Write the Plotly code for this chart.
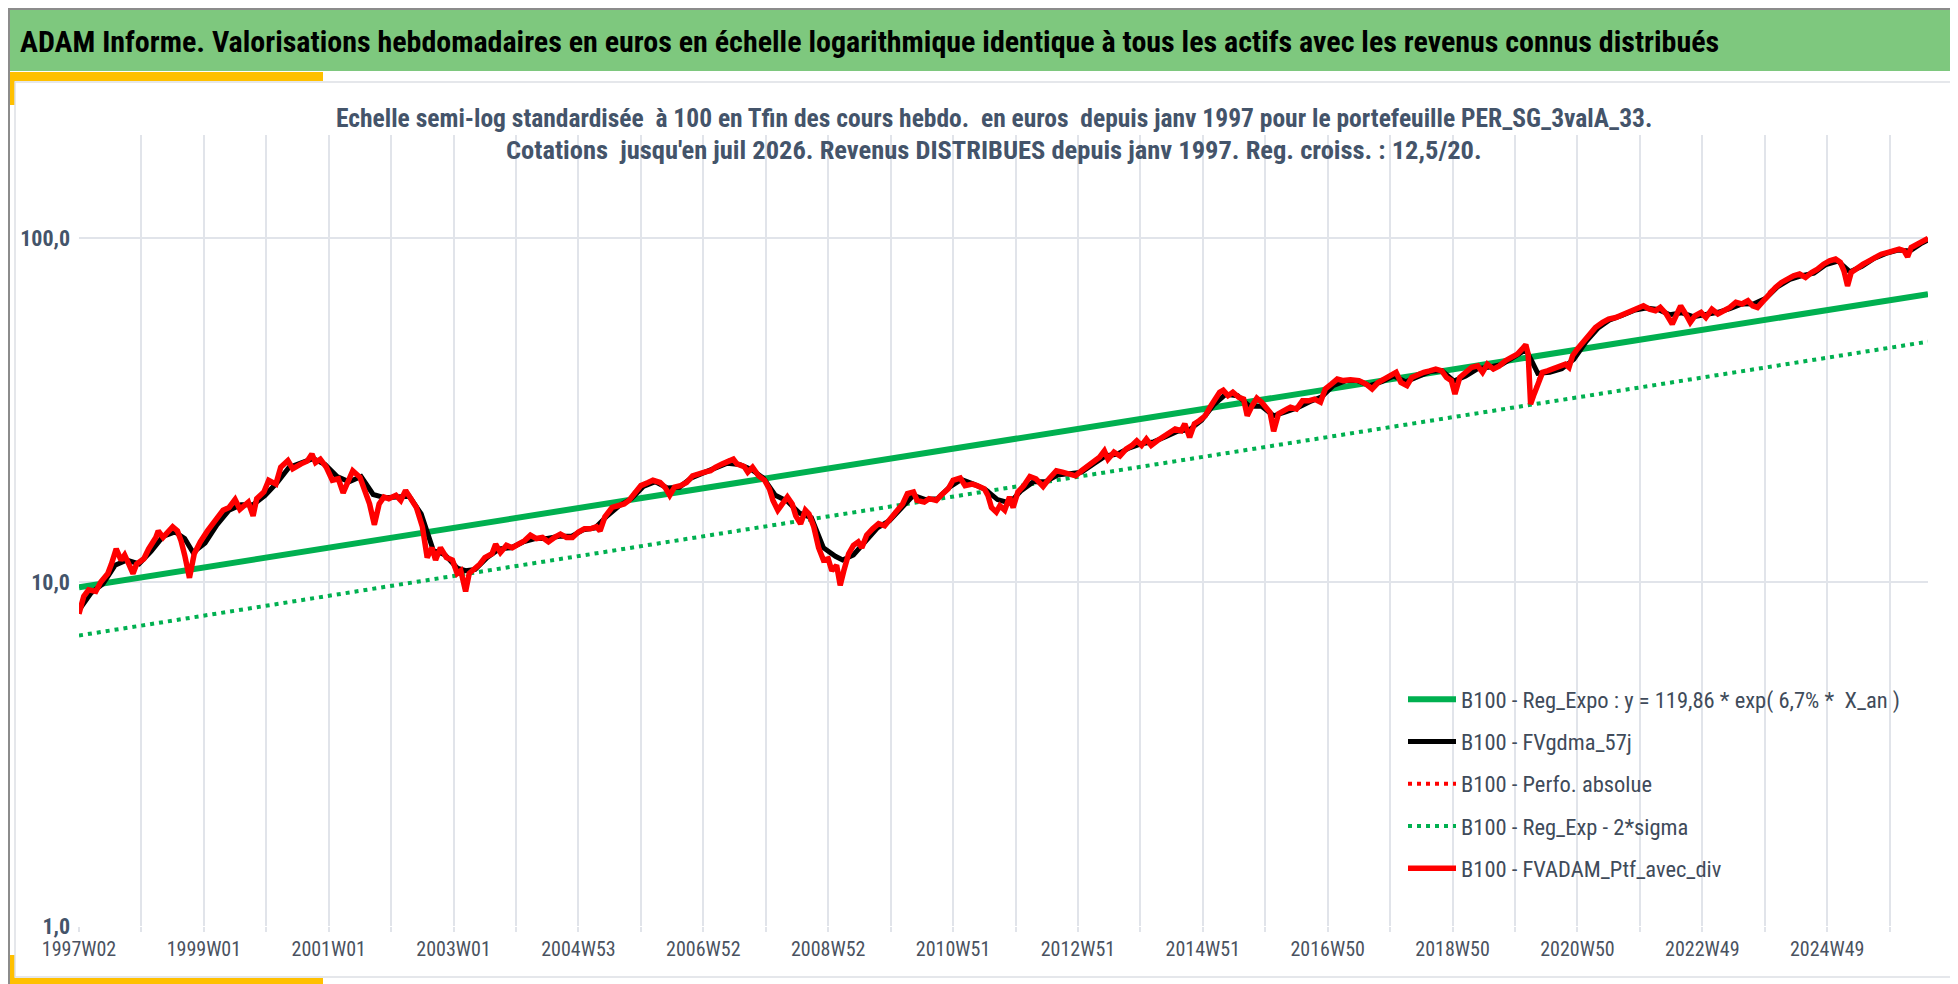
import plotly.graph_objects as go

# weekly index, 0 = 1997W02 (last point = juil 2026)
ptf_weeks = [0, 4, 8, 14, 18, 24, 27, 31, 35, 38, 42, 45, 48, 54, 58, 64, 66, 70, 74, 78,
             82, 85, 88, 92, 96, 101, 107, 114, 120, 125, 130, 134, 137, 141, 145, 148, 154, 158, 164, 168,
             174, 178, 185, 190, 194, 197, 201, 206, 211, 216, 220, 224, 228, 234, 238, 242, 246, 250, 254, 258,
             264, 268, 272, 276, 281, 286, 290, 294, 297, 301, 306, 311, 315, 318, 322, 325, 328, 334, 338, 344,
             347, 351, 356, 361, 366, 371, 376, 381, 386, 391, 396, 401, 406, 411, 416, 421, 426, 431, 434, 438,
             444, 448, 454, 458, 464, 468, 474, 478, 484, 488, 492, 496, 501, 506, 511, 516, 521, 526, 530, 536,
             541, 545, 548, 554, 557, 561, 566, 571, 575, 578, 582, 586, 590, 594, 597, 601, 605, 608, 612, 616,
             620, 624, 627, 631, 634, 637, 641, 645, 649, 652, 656, 661, 666, 671, 676, 681, 686, 690, 695, 698,
             704, 708, 714, 718, 724, 728, 734, 738, 744, 748, 754, 757, 760, 764, 767, 771, 775, 778, 782, 787,
             792, 797, 803, 808, 814, 819, 824, 830, 835, 840, 845, 850, 854, 857, 862, 867, 872, 877, 881, 885,
             889, 893, 898, 903, 908, 913, 918, 921, 925, 929, 933, 938, 942, 946, 950, 953, 957, 961, 966, 970,
             973, 977, 981, 985, 989, 992, 995, 999, 1004, 1009, 1014, 1019, 1024, 1029, 1034, 1038, 1043, 1048, 1053, 1059,
             1066, 1072, 1077, 1082, 1087, 1092, 1097, 1101, 1106, 1110, 1115, 1120, 1125, 1130, 1135, 1139, 1143, 1146, 1150, 1155,
             1160, 1165, 1169, 1173, 1178, 1183, 1188, 1193, 1198, 1202, 1205, 1207, 1209, 1212, 1216, 1219, 1223, 1228, 1234, 1238,
             1241, 1244, 1248, 1253, 1258, 1263, 1269, 1274, 1280, 1287, 1293, 1298, 1303, 1308, 1313, 1317, 1322, 1327, 1330, 1334,
             1339, 1342, 1346, 1351, 1355, 1360, 1365, 1370, 1375, 1380, 1385, 1390, 1394, 1398, 1403, 1408, 1413, 1418, 1423, 1428,
             1433, 1438, 1443, 1448, 1453, 1458, 1463, 1467, 1470, 1473, 1476, 1481, 1486, 1491, 1496, 1501, 1506, 1511, 1516, 1520,
             1523, 1526, 1531, 1536, 1540]
ptf_values = [8.1, 9.1, 9.5, 9.4, 10.0, 10.6, 11.3, 12.5, 11.6, 12.0, 11.2, 10.6, 11.3, 11.7, 12.5, 13.5, 14.1, 13.5, 14.0, 14.5,
              14.1, 13.2, 12.0, 10.3, 12.1, 13.1, 14.1, 15.1, 16.2, 16.5, 17.4, 16.3, 16.7, 17.1, 15.6, 17.5, 18.3, 19.8, 19.3, 21.6,
              22.6, 21.4, 22.1, 22.5, 23.6, 22.3, 22.8, 21.6, 19.8, 20.0, 18.2, 19.5, 21.1, 20.2, 18.7, 16.9, 14.7, 16.9, 17.7, 17.5,
              17.9, 17.3, 18.5, 17.7, 16.5, 14.5, 11.8, 12.6, 11.6, 12.6, 11.8, 11.6, 10.6, 10.8, 9.4, 10.6, 10.8, 11.3, 11.8, 12.1,
              12.9, 12.2, 12.8, 12.6, 12.9, 13.2, 13.7, 13.4, 13.5, 13.1, 13.5, 13.8, 13.5, 13.5, 14.0, 14.3, 14.3, 14.5, 14.1, 15.5,
              16.5, 16.7, 16.9, 17.3, 18.5, 19.1, 19.5, 19.8, 19.5, 18.9, 17.9, 18.9, 19.1, 19.5, 20.4, 20.7, 20.9, 21.1, 21.6, 22.1,
              22.6, 22.8, 22.1, 21.7, 20.9, 21.6, 20.4, 19.8, 18.7, 17.3, 16.2, 16.9, 17.7, 16.9, 15.6, 14.8, 16.2, 15.8, 14.5, 12.6,
              11.6, 11.7, 10.8, 11.2, 9.8, 10.8, 12.1, 12.8, 13.1, 12.6, 13.7, 14.3, 14.8, 14.6, 15.3, 16.2, 16.9, 18.1, 18.3, 17.3,
              17.1, 17.5, 17.3, 17.9, 18.7, 19.8, 20.1, 19.1, 19.3, 19.1, 18.7, 17.9, 16.5, 16.0, 16.7, 16.2, 17.7, 16.5, 18.3, 19.1,
              20.3, 20.0, 19.0, 20.0, 21.1, 20.9, 20.6, 20.4, 21.1, 21.8, 22.3, 23.1, 24.1, 22.8, 23.9, 23.3, 24.4, 25.0, 25.8, 25.0,
              26.1, 25.0, 25.8, 26.4, 27.0, 27.9, 27.6, 28.9, 26.4, 28.9, 29.5, 30.5, 32.3, 33.7, 35.7, 36.2, 34.9, 35.7, 34.5, 34.1,
              30.5, 32.6, 34.3, 33.4, 31.9, 31.2, 27.5, 30.9, 31.6, 32.3, 31.9, 33.7, 33.7, 34.1, 33.4, 36.5, 37.7, 39.0, 38.6, 38.8,
              38.6, 37.7, 36.5, 38.1, 39.0, 39.9, 40.8, 38.1, 37.3, 39.4, 40.3, 40.8, 41.2, 41.7, 41.2, 39.4, 38.6, 35.3, 39.4, 40.8,
              42.2, 42.6, 40.8, 43.1, 41.7, 42.6, 44.1, 45.1, 46.1, 47.7, 49.1, 46.1, 33.0, 35.3, 39.0, 40.8, 41.2, 41.7, 42.6, 43.1,
              42.2, 45.6, 47.7, 49.9, 52.1, 55.1, 57.0, 58.3, 58.9, 60.3, 61.6, 63.0, 63.7, 62.3, 61.6, 63.0, 60.3, 56.4, 59.6, 63.7,
              59.6, 57.0, 59.6, 60.9, 58.9, 62.3, 60.3, 61.6, 63.0, 65.2, 64.5, 65.9, 63.7, 63.0, 65.9, 69.7, 72.0, 74.5, 76.2, 77.9,
              78.8, 77.0, 79.6, 81.4, 84.2, 86.1, 87.1, 85.2, 80.5, 72.8, 79.6, 82.3, 84.2, 86.1, 88.1, 90.0, 91.0, 92.1, 93.1, 92.1,
              88.5, 94.1, 96.3, 98.4, 100.0]

gdma_weeks = [0, 10, 20, 30, 40, 50, 60, 70, 80, 88, 95, 105, 115, 125, 135, 145, 155, 165, 175, 185,
              195, 205, 215, 225, 235, 245, 255, 265, 275, 285, 295, 305, 315, 322, 330, 340, 350, 360, 370, 380,
              390, 400, 410, 420, 430, 440, 450, 460, 470, 480, 490, 500, 510, 520, 530, 540, 550, 560, 570, 580,
              590, 600, 610, 620, 630, 636, 645, 655, 665, 675, 685, 695, 705, 715, 725, 735, 745, 755, 765, 775,
              785, 795, 805, 815, 825, 835, 845, 855, 865, 875, 885, 895, 905, 915, 925, 935, 945, 955, 965, 975,
              985, 995, 1005, 1015, 1025, 1035, 1045, 1055, 1065, 1075, 1085, 1095, 1105, 1115, 1125, 1135, 1145, 1155, 1165, 1175,
              1185, 1195, 1205, 1210, 1215, 1225, 1235, 1245, 1255, 1265, 1275, 1285, 1295, 1305, 1315, 1325, 1335, 1345, 1355, 1365,
              1375, 1385, 1395, 1405, 1415, 1425, 1435, 1445, 1455, 1465, 1475, 1485, 1495, 1505, 1515, 1525, 1535, 1540]
gdma_values = [8.3, 9.3, 9.9, 11.2, 11.6, 11.3, 12.3, 13.6, 14.0, 13.4, 12.2, 13.0, 14.7, 16.2, 16.8, 16.8, 17.9, 19.5, 21.6, 22.2,
               22.9, 22.0, 20.3, 19.6, 20.3, 18.0, 17.6, 17.7, 17.8, 15.8, 12.4, 12.0, 11.0, 10.8, 10.9, 11.8, 12.5, 12.6, 13.1, 13.4,
               13.4, 13.6, 13.6, 14.2, 14.4, 15.6, 16.7, 17.5, 19.0, 19.6, 18.8, 18.9, 20.1, 20.8, 21.4, 22.2, 22.0, 21.3, 20.1, 17.9,
               17.2, 15.9, 15.4, 12.6, 11.9, 11.6, 12.0, 13.1, 14.4, 15.1, 16.4, 17.9, 17.4, 17.5, 18.9, 19.9, 19.3, 18.6, 17.4, 17.0,
               18.5, 19.6, 19.6, 20.5, 20.7, 20.9, 22.1, 23.3, 23.6, 24.6, 25.3, 25.6, 26.5, 27.5, 27.8, 29.6, 32.8, 35.2, 34.9, 32.5,
               32.5, 30.5, 31.3, 32.2, 33.5, 34.6, 37.4, 38.6, 38.6, 37.3, 38.3, 39.8, 38.3, 39.8, 41.0, 41.3, 38.5, 39.8, 41.8, 42.3,
               43.0, 45.2, 47.5, 44.0, 40.5, 40.8, 41.8, 44.5, 50.0, 54.8, 58.0, 59.7, 61.8, 62.8, 62.2, 60.0, 60.8, 59.2, 60.0, 61.0,
               62.5, 64.5, 64.6, 67.0, 72.5, 76.0, 78.0, 79.3, 84.0, 86.0, 80.0, 83.0, 87.5, 90.5, 92.5, 92.0, 97.0, 99.0]

reg_weeks = [0, 1540]
reg_values = [9.67, 68.9]
sigma_values = [7.0, 50.1]

tick_labels = ["1997W02", "1999W01", "2001W01", "2003W01", "2004W53", "2006W52", "2008W52", "2010W51",
               "2012W51", "2014W51", "2016W50", "2018W50", "2020W50", "2022W49", "2024W49"]
grid_weeks = list(range(0, 1541, 52))
grid_text = [tick_labels[i // 2] if i % 2 == 0 else "" for i in range(len(grid_weeks))]

FONT = "Liberation Sans Narrow, Roboto Condensed, DejaVu Sans Condensed, sans-serif"
W, H = 1958, 984
L, R, T, B = 71, 1920, 127, 918


def px(x):
    return (x - L) / (R - L)


def py(y):
    return (B - y) / (B - T)


def box(x0, x1, y0, y1, **kw):
    return dict(type="rect", xref="paper", yref="paper", layer="below",
                x0=px(x0), x1=px(x1), y0=py(y0), y1=py(y1), **kw)


fig = go.Figure()

fig.add_trace(go.Scatter(x=ptf_weeks, y=ptf_values, mode="lines", name="B100 - Perfo. absolue",
                         line=dict(color="#FF0000", width=4, dash="4px,5px"), legendrank=3, legendgroup="c"))
fig.add_trace(go.Scatter(x=reg_weeks, y=sigma_values, mode="lines", name="B100 - Reg_Exp - 2*sigma",
                         line=dict(color="#00B050", width=4, dash="4px,5px"), legendrank=4, legendgroup="d"))
fig.add_trace(go.Scatter(x=reg_weeks, y=reg_values, mode="lines",
                         name="B100 - Reg_Expo : y = 119,86 * exp( 6,7% *  X_an )",
                         line=dict(color="#00B050", width=6), legendrank=1, legendgroup="a"))
fig.add_trace(go.Scatter(x=gdma_weeks, y=gdma_values, mode="lines", name="B100 - FVgdma_57j",
                         line=dict(color="#000000", width=5), legendrank=2, legendgroup="b"))
fig.add_trace(go.Scatter(x=ptf_weeks, y=ptf_values, mode="lines", name="B100 - FVADAM_Ptf_avec_div",
                         line=dict(color="#FF0000", width=5.5), legendrank=5, legendgroup="e"))

shapes = [
    box(0, W, 0, 63, fillcolor="#7EC87E", line_width=0),
    box(0, 315, 64, 73, fillcolor="#FFC000", line_width=0),
    box(0, 7, 64, 97, fillcolor="#FFC000", line_width=0),
    box(1952, W, 64, 97, fillcolor="#FFC000", line_width=0),
    box(0, 315, 970, 979, fillcolor="#FFC000", line_width=0),
    box(0, 7, 947, 979, fillcolor="#FFC000", line_width=0),
    box(1952, W, 947, 969, fillcolor="#FFC000", line_width=0),
    box(7, 1953, 74, 969, line=dict(color="#DDE0E5", width=1.5)),
    box(1, W - 1, 1, H - 1, line=dict(color="#8C8C8C", width=2)),
]

annotations = [
    dict(text="ADAM Informe. Valorisations hebdomadaires en euros en échelle logarithmique identique à tous "
              "les actifs avec les revenus connus distribués",
         xref="paper", yref="paper", x=px(10), y=py(34), xanchor="left", yanchor="middle", showarrow=False,
         font=dict(family=FONT, size=30, color="#000000", weight="bold")),
    dict(text="Echelle semi-log standardisée  à 100 en Tfin des cours hebdo.  en euros  depuis janv 1997 pour "
              "le portefeuille PER_SG_3valA_33.",
         xref="paper", yref="paper", x=px(986), y=py(110), xanchor="center", yanchor="middle", showarrow=False,
         font=dict(family=FONT, size=25.5, color="#44546A", weight="bold")),
    dict(text="Cotations  jusqu'en juil 2026. Revenus DISTRIBUES depuis janv 1997. Reg. croiss. : 12,5/20.",
         xref="paper", yref="paper", x=px(986), y=py(142), xanchor="center", yanchor="middle", showarrow=False,
         font=dict(family=FONT, size=26.5, color="#44546A", weight="bold")),
]

fig.update_layout(
    width=W, height=H,
    margin=dict(l=L, r=W - R, t=T, b=H - B, pad=0),
    paper_bgcolor="white", plot_bgcolor="white",
    shapes=shapes, annotations=annotations,
    showlegend=True,
    legend=dict(x=px(1395), y=py(670), xanchor="left", yanchor="top", itemwidth=48,
                font=dict(family=FONT, size=22.5, color="#404B5A"),
                tracegroupgap=10, bgcolor="rgba(0,0,0,0)"),
    xaxis=dict(range=[0, 1540], tickmode="array", tickvals=grid_weeks, ticktext=grid_text,
               showgrid=True, gridcolor="#E1E4EA", gridwidth=1.5, zeroline=False,
               ticks="outside", ticklen=5, tickcolor="#E1E4EA", tickwidth=1.5,
               showline=False, tickfont=dict(family=FONT, size=20, color="#4A5260")),
    yaxis=dict(type="log", range=[0, 2.30103], tickmode="array", tickvals=[1, 10, 100],
               ticktext=["1,0", "10,0", "100,0"], showgrid=True, gridcolor="#E1E4EA", gridwidth=1.5,
               zeroline=False, showline=False, ticks="", ticklabelstandoff=8,
               tickfont=dict(family=FONT, size=22, color="#44546A", weight="bold")),
)

fig.write_html("out.html")
